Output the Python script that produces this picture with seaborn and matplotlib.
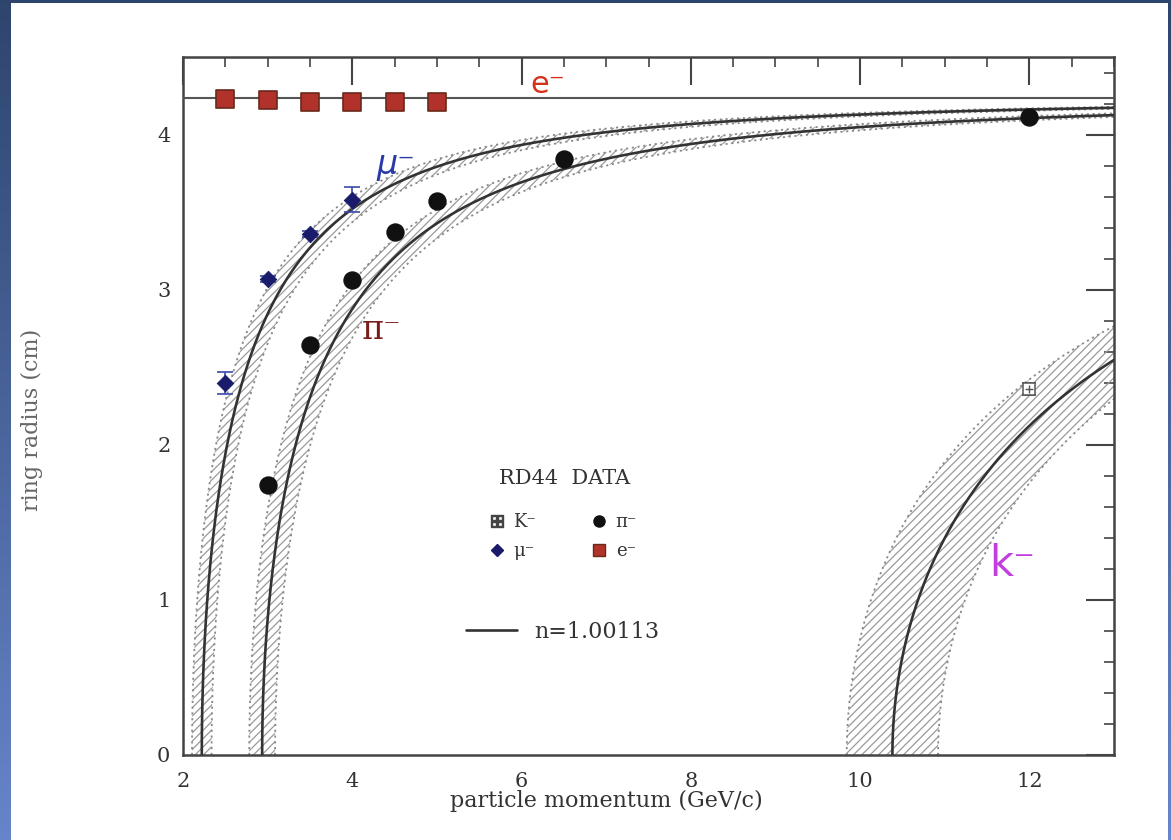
import numpy as np
import pandas as pd
import matplotlib
matplotlib.use("Agg")
import matplotlib.pyplot as plt
from matplotlib.lines import Line2D
from matplotlib.patches import Rectangle
from matplotlib.ticker import MultipleLocator
import seaborn as sns

# ---------------------------------------------------------------
# RD44 test-beam data: Cherenkov ring radius vs particle momentum
# ---------------------------------------------------------------
e_p = [2.5, 3.0, 3.5, 4.0, 4.5, 5.0]
e_r = [4.23, 4.22, 4.21, 4.21, 4.21, 4.21]

mu_p = [2.5, 3.0, 3.5, 4.0]
mu_r = [2.40, 3.07, 3.36, 3.58]
mu_err = [0.07, 0.02, 0.02, 0.08]

pi_p = [3.0, 3.5, 4.0, 4.5, 5.0, 6.5, 12.0]
pi_r = [1.74, 2.645, 3.065, 3.37, 3.57, 3.84, 4.11]

k_p = [12.0]
k_r = [2.36]
k_err = [0.04]

# expectation for the radiator index quoted in the key
n_index = 1.00113
r_sat = 4.235          # ring radius for beta -> 1 (cm)
p_spread = 0.052       # relative momentum band shown around each curve
particles = ["mu", "pi", "K"]
masses = [0.10566, 0.13957, 0.49368]   # GeV/c^2

focal = r_sat / np.sqrt(n_index ** 2 - 1.0)


def momentum_for_radius(r, m):
    """Momentum giving ring radius r for a particle of mass m."""
    theta = np.arctan(r / focal)
    beta = 1.0 / (n_index * np.cos(theta))
    return m * beta / np.sqrt(1.0 - beta ** 2)


r_grid = np.linspace(0.0, r_sat * 0.99995, 3000)
curves = []
for name, m in zip(particles, masses):
    p_c = momentum_for_radius(r_grid, m)
    curves.append(pd.DataFrame({"particle": name, "r": r_grid, "p": p_c,
                                "p_lo": p_c * (1 - p_spread),
                                "p_hi": p_c * (1 + p_spread)}))
theory = pd.concat(curves, ignore_index=True)

# ---------------------------------------------------------------
sns.set_style("white")
plt.rcParams["font.family"] = ["DejaVu Serif"]
plt.rcParams["hatch.linewidth"] = 0.9
plt.rcParams["hatch.color"] = "#8a8a8a"

fig = plt.figure(figsize=(11.71, 8.4), dpi=100)

# slide backdrop: blue gradient frame around a white page
bg = fig.add_axes([0, 0, 1, 1], zorder=-10)
grad = np.linspace(0, 1, 256)[:, None]
top_c = np.array([0.18, 0.27, 0.43])
bot_c = np.array([0.40, 0.52, 0.79])
img = top_c[None, None, :] * (1 - grad[..., None]) + bot_c[None, None, :] * grad[..., None]
bg.imshow(np.repeat(img, 2, axis=1), aspect="auto", extent=[0, 1, 0, 1])
bg.axis("off")
fig.patches.append(Rectangle((11 / 1171, 0), (1168 - 11) / 1171, 837 / 840,
                             transform=fig.transFigure, facecolor="white",
                             edgecolor="none", zorder=-5))

ax = fig.add_axes([183 / 1171, 1 - 755 / 840, (1114 - 183) / 1171, (755 - 57) / 840])
ax.set_facecolor("white")

# momentum bands and expected curves
for name, grp in theory.groupby("particle", sort=False):
    ax.fill_betweenx(grp["r"], grp["p_lo"], grp["p_hi"], facecolor="none",
                     hatch="////", edgecolor="#9a9a9a", linewidth=0, zorder=1)
    for edge in ("p_lo", "p_hi"):
        sns.lineplot(x=grp[edge], y=grp["r"], sort=False, estimator=None, ax=ax,
                     color="#8a8a8a", lw=1.3, ls=(0, (1.2, 2.0)), zorder=2)
    sns.lineplot(x=grp["p"], y=grp["r"], sort=False, estimator=None, ax=ax,
                 color="#333333", lw=1.9, zorder=3)

# electrons: saturated ring radius
ax.axhline(r_sat, color="#555555", lw=1.5, zorder=3)

# measured points
ax.errorbar(mu_p, mu_r, yerr=mu_err, fmt="none", ecolor="#3a4aa8",
            elinewidth=1.2, capsize=6, capthick=1.2, zorder=4)
sns.scatterplot(x=mu_p, y=mu_r, marker="D", s=70, color="#1b1b6b",
                edgecolor="#1b1b6b", ax=ax, zorder=5)
sns.scatterplot(x=pi_p, y=pi_r, marker="o", s=150, color="#111111",
                edgecolor="#111111", ax=ax, zorder=5)
sns.scatterplot(x=e_p, y=e_r, marker="s", s=150, color="#b0322a",
                edgecolor="#6a2a1a", linewidth=1.2, ax=ax, zorder=5)
ax.errorbar(k_p, k_r, yerr=k_err, fmt="s", ms=8, mfc="white", mec="#555555",
            mew=1.1, ecolor="#555555", elinewidth=1.0, capsize=5, zorder=5)
sns.scatterplot(x=k_p, y=k_r, marker="+", s=40, color="#555555",
                linewidth=1.0, ax=ax, zorder=6)

ax.set_xlim(2, 13)
ax.set_ylim(0, 4.5)
ax.xaxis.set_major_locator(MultipleLocator(2))
ax.xaxis.set_minor_locator(MultipleLocator(0.5))
ax.yaxis.set_major_locator(MultipleLocator(1))
ax.yaxis.set_minor_locator(MultipleLocator(0.2))
ax.tick_params(which="both", direction="in", top=True, right=True,
               colors="#444444", labelcolor="#333333", labelsize=15)
ax.tick_params(which="major", length=20, width=1.5)
ax.tick_params(which="minor", length=7, width=1.2)
ax.tick_params(axis="x", which="major", pad=12)
ax.tick_params(axis="y", which="major", pad=9)
for sp in ax.spines.values():
    sp.set_color("#444444")
    sp.set_linewidth(1.8)

ax.set_xlabel("particle momentum (GeV/c)", fontsize=16, color="#333333")
ax.set_ylabel("ring radius (cm)", fontsize=16, color="#666666")
ax.xaxis.set_label_coords(0.455, -0.05)
ax.yaxis.set_label_coords(-0.150, 0.48)

# hand-written particle labels
ax.text(6.31, 4.32, "e\u207b", color="#d4301c", fontsize=22,
        family="DejaVu Sans", ha="center", va="center")
ax.text(4.52, 3.81, "\u03bc\u207b", color="#2a3aa8", fontsize=24,
        family="DejaVu Sans", style="italic", ha="center", va="center")
ax.text(4.35, 2.74, "\u03c0\u207b", color="#7a1c1c", fontsize=24,
        ha="center", va="center")
ax.text(11.8, 1.23, "k\u207b", color="#c23ee0", fontsize=30,
        family="DejaVu Sans", ha="center", va="center")

# key
ax.text(0.41, (755 - 479) / 698, "RD44  DATA", transform=ax.transAxes,
        fontsize=15, color="#333333", ha="center", va="center")
key_handles = [
    Line2D([], [], ls="none", marker=r"$\boxplus$", ms=9, color="#444444"),
    Line2D([], [], ls="none", marker="D", ms=6, color="#1b1b6b"),
    Line2D([], [], ls="none", marker="o", ms=8, color="#111111"),
    Line2D([], [], ls="none", marker="s", ms=8, color="#b0322a", mec="#6a2a1a"),
]
key_labels = ["K\u207b", "\u03bc\u207b", "\u03c0\u207b", "e\u207b"]
key = ax.legend(key_handles, key_labels, ncol=2,
                loc="upper left", bbox_to_anchor=(0.318, (755 - 504) / 698),
                frameon=False, fontsize=13, handletextpad=0.4,
                columnspacing=3.0, labelspacing=0.6, borderpad=0,
                handlelength=1.0)
for t in key.get_texts():
    t.set_color("#333333")
ax.add_artist(key)

line_key = ax.legend([Line2D([], [], color="#333333", lw=1.9)], ["n=1.00113"],
                     loc="center left", bbox_to_anchor=(0.292, 0.176),
                     frameon=False, fontsize=16, handlelength=2.3,
                     handletextpad=0.75, borderpad=0)
for t in line_key.get_texts():
    t.set_color("#333333")

fig.savefig("out.png", dpi=100)
